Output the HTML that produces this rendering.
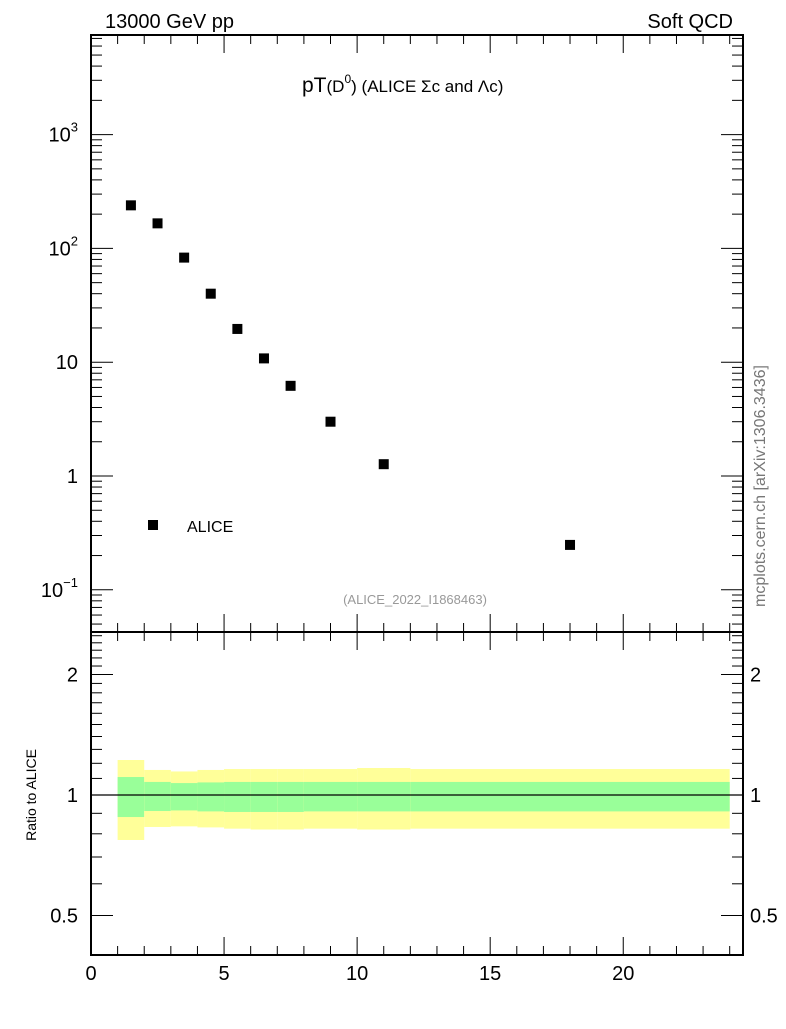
<!DOCTYPE html>
<html><head><meta charset="utf-8"><style>
body{margin:0;background:#fff;font-family:"Liberation Sans",sans-serif}
svg text{font-family:"Liberation Sans",sans-serif}
</style></head><body>
<svg id="c" width="786" height="1024" xmlns="http://www.w3.org/2000/svg">
<text x="105" y="28" font-size="20">13000 GeV pp</text>
<text x="733" y="28" font-size="20" text-anchor="end">Soft QCD</text>
<text x="302" y="92" font-size="21">pT<tspan font-size="17">(D</tspan><tspan font-size="12" dy="-9">0</tspan><tspan font-size="17" dy="9">) (ALICE Σc and Λc)</tspan></text>
<text x="415" y="604" font-size="13" fill="#999" text-anchor="middle">(ALICE_2022_I1868463)</text>
<text transform="translate(765,486) rotate(-90)" font-size="16" fill="#777" text-anchor="middle">mcplots.cern.ch [arXiv:1306.3436]</text>
<text transform="translate(36,795) rotate(-90)" font-size="14" text-anchor="middle">Ratio to ALICE</text>
<rect x="148" y="520" width="10" height="10" fill="#000"/>
<text x="187" y="532" font-size="16">ALICE</text>
<g id="g"></g>
</svg>
<script>
const binLo=[1,2,3,4,5,6,7,8,10,12];
const binHi=[2,3,4,5,6,7,8,10,12,24];
const xVals=[1.5,2.5,3.5,4.5,5.5,6.5,7.5,9,11,18];
const yVals=[239,166,83,40,19.6,10.8,6.2,3.0,1.27,0.248];
const yelUp=[1.223,1.155,1.145,1.155,1.161,1.161,1.161,1.161,1.168,1.161];
const grnUp=[1.109,1.078,1.071,1.075,1.078,1.078,1.078,1.078,1.078,1.078];
const grnLo=[0.881,0.912,0.915,0.910,0.907,0.907,0.907,0.910,0.910,0.910];
const yelLo=[0.772,0.832,0.835,0.830,0.824,0.820,0.820,0.824,0.820,0.824];
const xTicks=[0,5,10,15,20];
const L=91,R=743,T=35,M=632,B=955;
const X=v=>L+(v/24.5)*(R-L);
const Y=v=>476-113.8*Math.log10(v);
const YR=v=>795-120.5*Math.log2(v);
const g=document.getElementById('g');const NS='http://www.w3.org/2000/svg';
function el(t,a,p){const e=document.createElementNS(NS,t);for(const k in a)e.setAttribute(k,a[k]);(p||g).appendChild(e);return e;}
for(let i=0;i<binLo.length;i++){
 const b=el('rect',{x:X(binLo[i]),y:YR(yelUp[i]),width:X(binHi[i])-X(binLo[i]),height:YR(yelLo[i])-YR(yelUp[i]),fill:'#ffff99'});
 
 
 const c=el('rect',{x:X(binLo[i]),y:YR(grnUp[i]),width:X(binHi[i])-X(binLo[i]),height:YR(grnLo[i])-YR(grnUp[i]),fill:'#99ff99'});
 
 
}
const rl=el('line',{x1:L,x2:R,y1:YR(1),y2:YR(1),stroke:'#000','stroke-width':1.3});


for(let i=0;i<xVals.length;i++){
 const p=el('rect',{x:X(xVals[i])-5,y:Y(yVals[i])-5,width:10,height:10,fill:'#000'});
 
 
}
for(const [y1,y2] of [[T,M],[M,B]]){
 const f=el('rect',{x:L,y:y1,width:R-L,height:y2-y1,fill:'none',stroke:'#000','stroke-width':2});
 
 
}
for(let v=0;v<=24;v++){const maj=v%5==0;const len=maj?18:9;
 for(const [yb,dir] of [[M,-1],[T,1],[B,-1],[M,1]]) el('line',{x1:X(v),x2:X(v),y1:yb,y2:yb+dir*len,stroke:'#000','stroke-width':1});}
xTicks.forEach(v=>{const t=el('text',{x:X(v),y:980,'font-size':20,'text-anchor':'middle'});t.textContent=v;
 
 });
for(let d=-2;d<=3;d++)for(let m=1;m<10;m++){const v=m*Math.pow(10,d);const y=Y(v);if(y<T||y>M)continue;const len=m==1?22:11;
 el('line',{x1:L,x2:L+len,y1:y,y2:y,stroke:'#000'});el('line',{x1:R,x2:R-len,y1:y,y2:y,stroke:'#000'});}
[['10',3],['10',2],['10',null],['1',null]].forEach(([b,e],i)=>{const v=[1000,100,10,1][i];const t=el('text',{x:78,y:Y(v)+7,'font-size':20,'text-anchor':'end'});
 if(e){t.innerHTML=b+'<tspan font-size="13" dy="-10">'+e+'</tspan>';}else t.textContent=b;
 
 });
{const t=el('text',{x:78,y:Y(0.1)+7,'font-size':20,'text-anchor':'end'});t.innerHTML='10<tspan font-size="13" dy="-10">−1</tspan>';
 
 }
[0.5,0.6,0.7,0.8,0.9,1,1.1,1.2,1.3,1.4,1.5,1.6,1.7,1.8,1.9,2,2.1,2.2,2.3,2.4,2.5].forEach(v=>{const y=YR(v);const maj=(v==0.5||v==1||v==2);const len=maj?22:11;
 el('line',{x1:L,x2:L+len,y1:y,y2:y,stroke:'#000'});el('line',{x1:R,x2:R-len,y1:y,y2:y,stroke:'#000'});});
[[2,'2'],[1,'1'],[0.5,'0.5']].forEach(([v,s])=>{for(const [x,a] of [[78,'end'],[750,'start']]){const t=el('text',{x:x,y:YR(v)+7,'font-size':20,'text-anchor':a});t.textContent=s;
 
 }});
</script>
</body></html>
